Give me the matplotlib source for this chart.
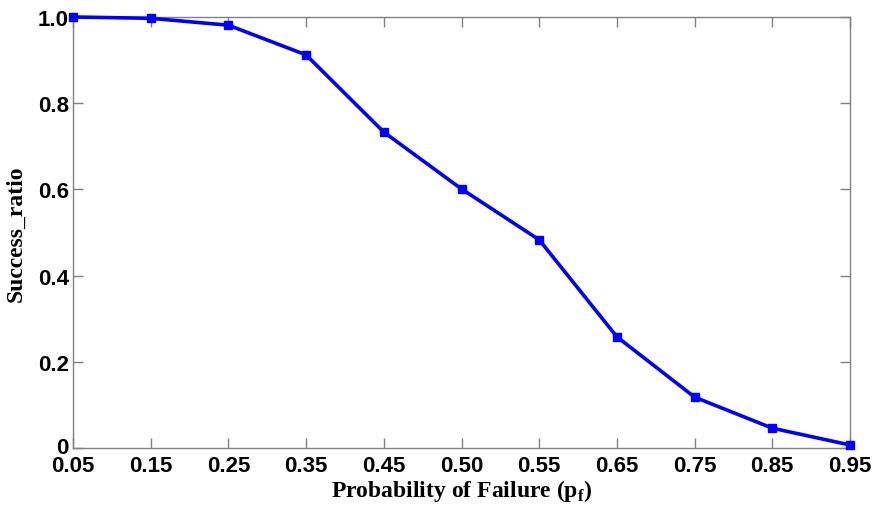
import numpy as np
import matplotlib.pyplot as plt
import matplotlib.transforms as mtransforms

plt.rcParams['mathtext.fontset'] = 'custom'
plt.rcParams['mathtext.rm'] = 'Liberation Serif:bold'
plt.rcParams['mathtext.bf'] = 'Liberation Serif:bold'

# failure probabilities (plotted at evenly spaced positions) and success ratio
p_fail = ['0.05', '0.15', '0.25', '0.35', '0.45', '0.50', '0.55', '0.65', '0.75', '0.85', '0.95']
success_ratio = [1.0, 0.997, 0.981, 0.912, 0.733, 0.601, 0.483, 0.258, 0.118, 0.046, 0.007]
y_ticks = [0, 0.2, 0.4, 0.6, 0.8, 1.0]
y_ticklabels = ['0', '0.2', '0.4', '0.6', '0.8', '1.0']

fig = plt.figure(figsize=(8.75, 5.06), dpi=100)
ax = fig.add_axes([73 / 875, 1 - 449 / 506, 777 / 875, 431 / 506])

xpos = np.arange(len(p_fail))
ax.plot(xpos, success_ratio, color='#0000ff', lw=2.6, marker='s', ms=6,
        markeredgecolor='#0000ff', clip_on=False, zorder=5)

ax.set_xlim(0, len(p_fail) - 1)
ax.set_ylim(0, 1.0)
ax.set_xticks(xpos)
ax.set_xticklabels(p_fail)
ax.set_yticks(y_ticks)
ax.set_yticklabels(y_ticklabels)

for s in ax.spines.values():
    s.set_color('#808080')
    s.set_linewidth(1.0)
ax.tick_params(direction='in', top=True, right=True, length=7, width=1.0,
               color='#808080', labelsize=16)
ax.tick_params(axis='x', pad=5)
ax.tick_params(axis='y', pad=3)
for lab in ax.get_xticklabels() + ax.get_yticklabels():
    lab.set_fontfamily('Liberation Sans')
    lab.set_fontweight('bold')

# lift the "0" label slightly so it clears "0.05"
zero_lab = ax.get_yticklabels()[0]
zero_lab.set_transform(zero_lab.get_transform() +
                       mtransforms.ScaledTranslation(0, 3 / 100, fig.dpi_scale_trans))

ax.set_xlabel(r'Probability of Failure (p$_{\mathrm{f}}$)', fontfamily='Liberation Serif',
              fontweight='bold', fontsize=17, labelpad=1)
ax.set_ylabel('Success_ratio', fontfamily='Liberation Serif', fontweight='bold',
              fontsize=17, labelpad=8)

fig.savefig('out.png', dpi=100)
